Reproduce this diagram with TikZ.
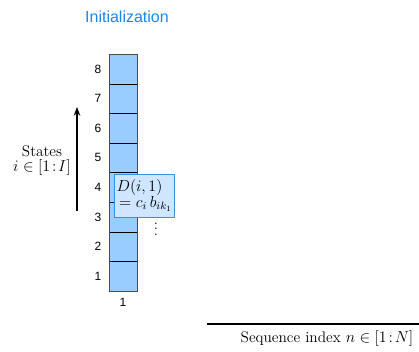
\documentclass[tikz,border=0pt]{standalone}
\usepackage{fontspec}
\usepackage{amsmath,amssymb}
\newfontfamily\labelfont{Liberation Sans}
\usetikzlibrary{positioning,arrows.meta}
\definecolor{titleblue}{RGB}{30,134,230}
\definecolor{cellblue}{RGB}{153,204,255}
\definecolor{boxfill}{RGB}{206,230,255}
\definecolor{boxline}{RGB}{50,145,235}

\begin{document}
\begin{tikzpicture}[
    x=0.75pt, y=0.75pt,
    cell/.style={draw=black, fill=cellblue, minimum width=21pt, minimum height=22.2pt, inner sep=0pt, outer sep=0pt},
    num/.style={font=\labelfont\fontsize{9}{10}\selectfont, inner sep=1pt},
    serif/.style={font=\fontsize{11.5}{13.5}\selectfont},
    >=Stealth
  ]
  \useasboundingbox (0,0) rectangle (419,351);

  \node[font=\labelfont\fontsize{12}{14}\selectfont, text=titleblue] (title) at (127,334) {Initialization};

  % column of states
  \node[cell] (c1) at (123,74.8) {};
  \node[cell, above=0pt of c1] (c2) {};
  \node[cell, above=0pt of c2] (c3) {};
  \node[cell, above=0pt of c3] (c4) {};
  \node[cell, above=0pt of c4] (c5) {};
  \node[cell, above=0pt of c5] (c6) {};
  \node[cell, above=0pt of c6] (c7) {};
  \node[cell, above=0pt of c7] (c8) {};
  \draw[draw=black!70] (c1.south west) rectangle (c8.north east);

  \node[num, left=4.5pt of c1] (n1) {1};
  \node[num, left=4.5pt of c2] (n2) {2};
  \node[num, left=4.5pt of c3] (n3) {3};
  \node[num, left=4.5pt of c4] (n4) {4};
  \node[num, left=4.5pt of c5] (n5) {5};
  \node[num, left=4.5pt of c6] (n6) {6};
  \node[num, left=4.5pt of c7] (n7) {7};
  \node[num, left=4.5pt of c8] (n8) {8};
  \node[num, below=4pt of c1] (col1) {1};

  % states axis
  \coordinate (ax0) at (77,140);
  \coordinate (ax1) at (77,244);
  \draw[thick, ->] (ax0) -- (ax1);
  \node[serif, align=center] (states) at (42,190.5) {States\\[-2pt] $i \in [1\!:\! I]$};

  % initial value
  \node[draw=boxline, fill=boxfill, minimum width=42.75pt, minimum height=32.25pt, inner sep=1.5pt, align=left, serif] (init) at (144.5,155.5)
    {$D(i,1)$\\[-2pt] $\,= c_i\, b_{ik_1}$};
  \node[serif, inner sep=0pt] (dots) at (156,126) {$\vdots$};

  % sequence axis
  \coordinate (sq0) at (207,27);
  \coordinate (sq1) at (419,27);
  \draw[thick] (sq0) -- (sq1);
  \node[serif] (seq) at (327,12) {Sequence index $n \in [1\!:\! N]$};
\end{tikzpicture}
\end{document}
